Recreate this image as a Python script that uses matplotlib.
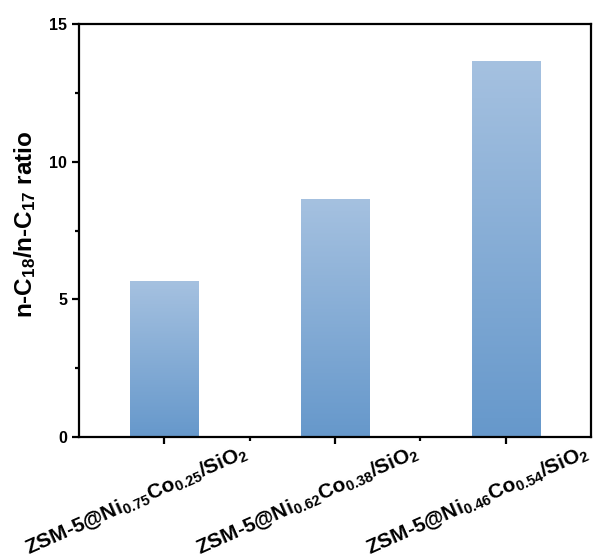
import numpy as np
import matplotlib as mpl
import matplotlib.pyplot as plt
from matplotlib.colors import LinearSegmentedColormap

plt.rcParams.update({
    "font.family": "Liberation Sans",
    "font.weight": "bold",
    "mathtext.fontset": "custom",
    "mathtext.rm": "Liberation Sans:bold",
    "mathtext.bf": "Liberation Sans:bold",
    "mathtext.it": "Liberation Sans:bold",
})

# data
ni = ["0.75", "0.62", "0.46"]
co = ["0.25", "0.38", "0.54"]
ratio = [5.63, 8.64, 13.62]
labels = [r"ZSM-5@Ni$_{%s}$Co$_{%s}$/SiO$_{2}$" % (a, b) for a, b in zip(ni, co)]

cmap = LinearSegmentedColormap.from_list("bar", ["#6698cb", "#a5c1e0"])

fig = plt.figure(figsize=(5.97, 5.60), dpi=100)
ax = fig.add_axes([79 / 597, 1 - 437 / 560, (591 - 79) / 597, (437 - 24) / 560])

x = np.arange(len(ratio))
bars = ax.bar(x, ratio, width=0.4, color="none", edgecolor="none")
grad = np.linspace(0, 1, 256).reshape(-1, 1)
for b in bars:
    x0, y0 = b.get_x(), b.get_y()
    ax.imshow(grad, extent=[x0, x0 + b.get_width(), y0, y0 + b.get_height()],
              origin="lower", aspect="auto", cmap=cmap, zorder=2)

ax.set_xlim(-0.5, 2.5)
ax.set_ylim(0, 15)
ax.set_yticks([0, 5, 10, 15])
ax.set_yticks([2.5, 7.5, 12.5], minor=True)
ax.set_xticks(x)
ax.set_xticks([0.5, 1.5], minor=True)
ax.set_xticklabels([])
for s in ax.spines.values():
    s.set_linewidth(1.6)
ax.tick_params(which="major", direction="out", length=5, width=1.6,
               labelsize=11.5)
ax.tick_params(which="minor", direction="out", length=3, width=1.6)

for xi, lab in zip(x, labels):
    ax.annotate(lab, xy=(xi, 0), xycoords=("data", "axes fraction"),
                xytext=(-20, -46), textcoords="offset points",
                ha="center", va="center", rotation=24,
                rotation_mode="anchor", fontsize=15, fontweight="bold")

ax.set_ylabel(r"n-C$_{18}$/n-C$_{17}$ ratio", fontsize=17.5, fontweight="bold")
ax.yaxis.set_label_coords(-41 / 512, 0.516)

fig.savefig("out.png", dpi=100)
